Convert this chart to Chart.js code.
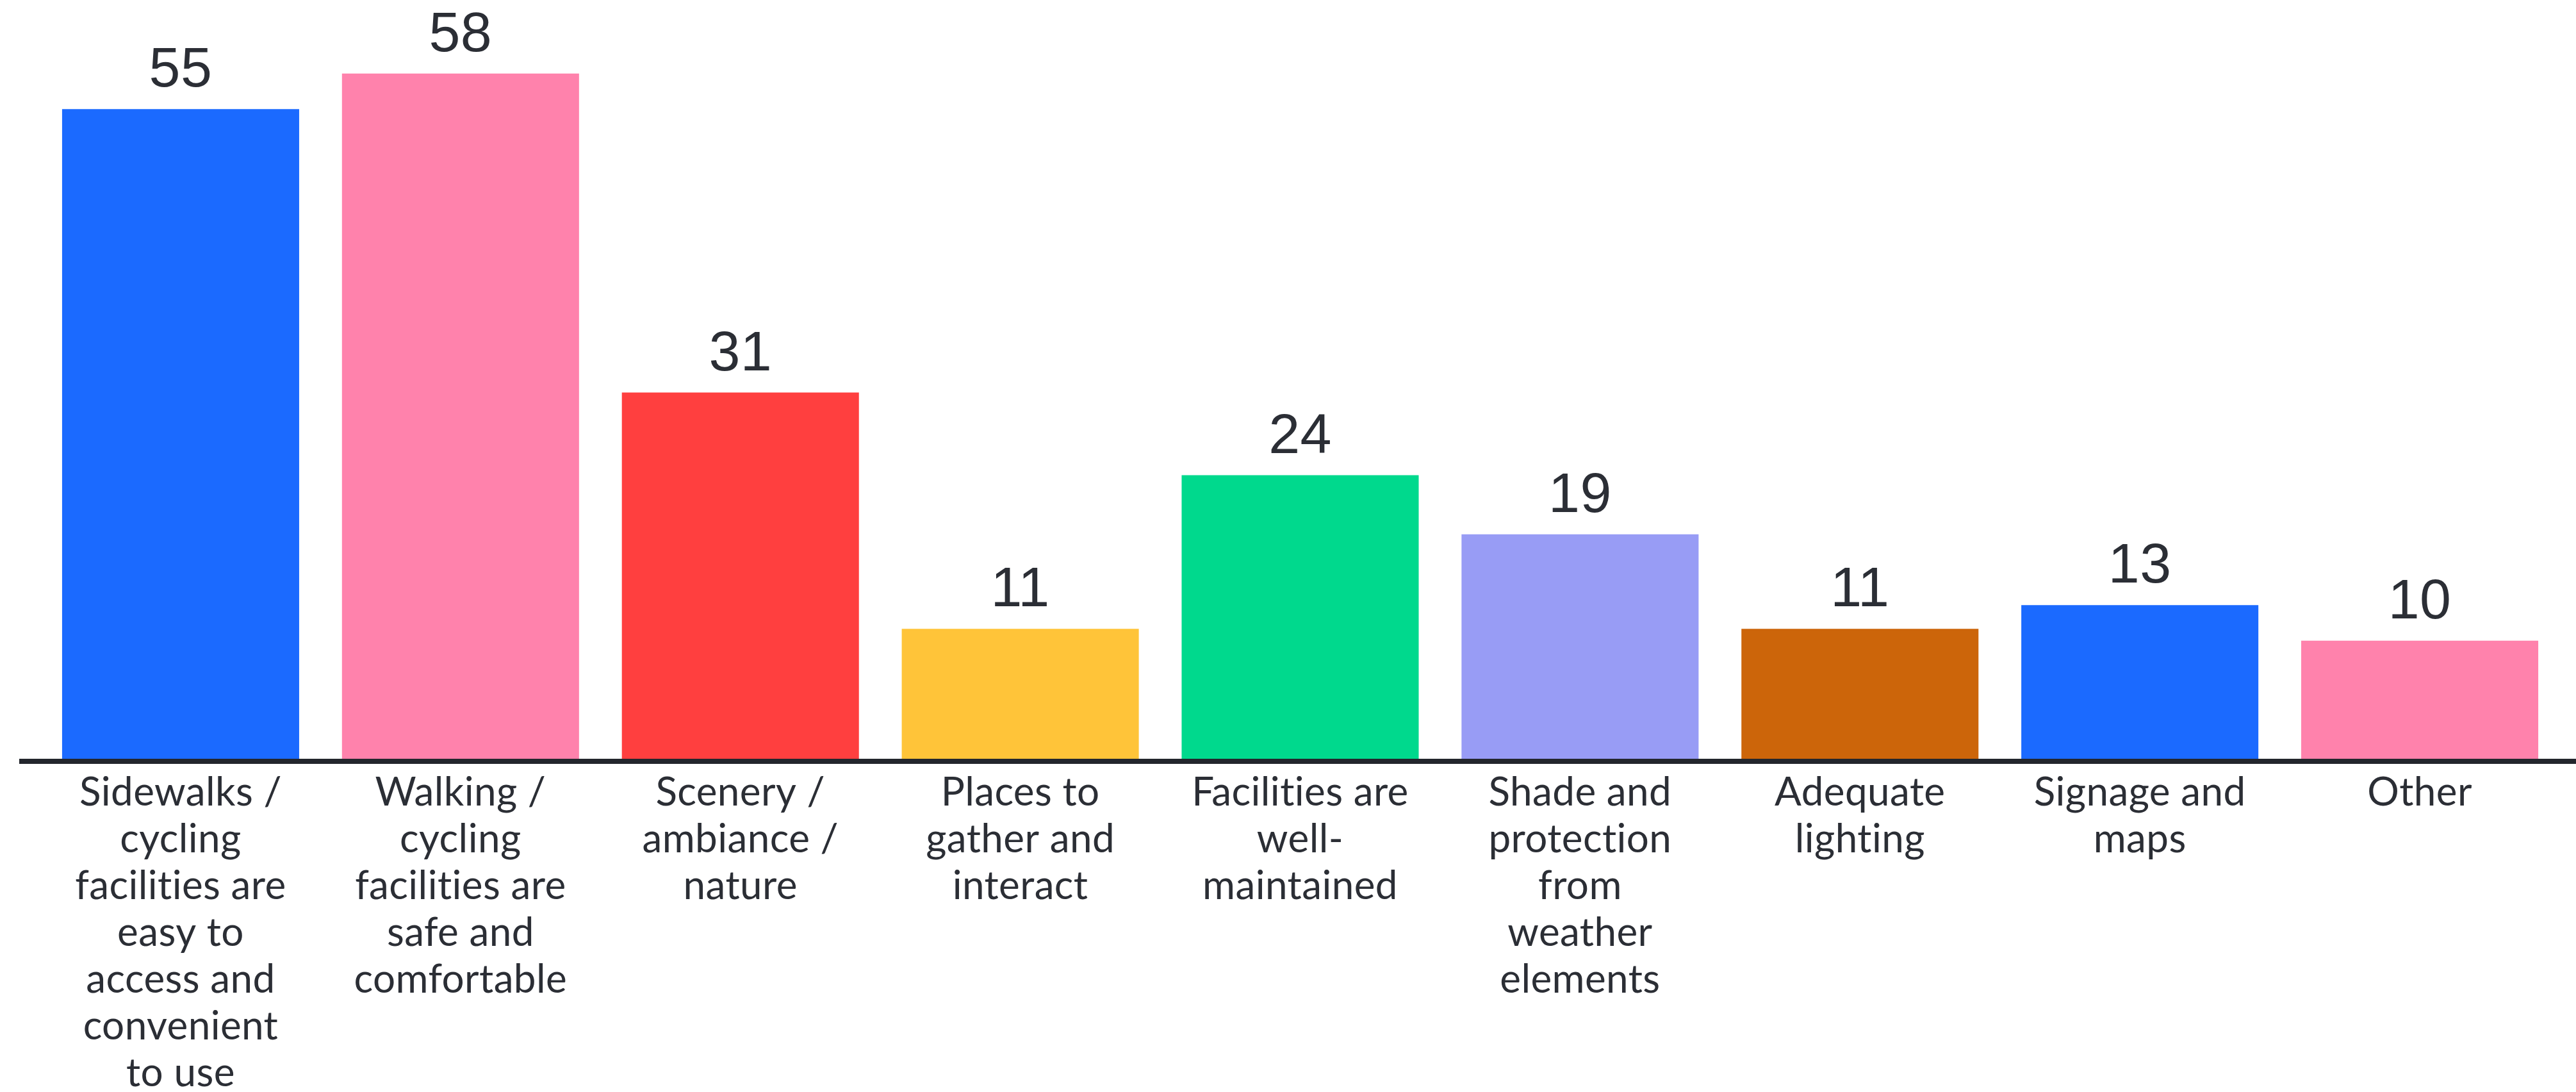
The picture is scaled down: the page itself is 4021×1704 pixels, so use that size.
<!DOCTYPE html>
<html>
<head>
<meta charset="utf-8">
<style>
  html, body { margin: 0; padding: 0; background: #ffffff; }
  #wrap { width: 4021px; height: 1704px; }
</style>
<script src="https://cdn.jsdelivr.net/npm/chart.js@4.4.0/dist/chart.umd.min.js"></script>
</head>
<body>
<div id="wrap"><canvas id="c" width="4021" height="1704"></canvas></div>
<script>
const categories = [
  ["Sidewalks /", "cycling", "facilities are", "easy to", "access and", "convenient", "to use"],
  ["Walking /", "cycling", "facilities are", "safe and", "comfortable"],
  ["Scenery /", "ambiance /", "nature"],
  ["Places to", "gather and", "interact"],
  ["Facilities are", "well-", "maintained"],
  ["Shade and", "protection", "from", "weather", "elements"],
  ["Adequate", "lighting"],
  ["Signage and", "maps"],
  ["Other"]
];
const values = [55, 58, 31, 11, 24, 19, 11, 13, 10];
const barColors = ["#1b6aff", "#ff82ac", "#ff3f3f", "#ffc439", "#00d98d", "#989cf5", "#cc650a", "#1b6aff", "#ff82ac"];
const yMax = 60;

const TEXT = "#2b2e35";

const noLigatures = {
  id: "noLigatures",
  beforeDraw(chart) {
    try { chart.ctx.letterSpacing = "0.4px"; } catch (e) {}
  }
};

const valueLabels = {
  id: "valueLabels",
  afterDatasetsDraw(chart) {
    const ctx = chart.ctx;
    const meta = chart.getDatasetMeta(0);
    ctx.save();
    ctx.fillStyle = TEXT;
    ctx.font = "88px 'Liberation Sans', Arial, sans-serif";
    ctx.textAlign = "center";
    ctx.textBaseline = "alphabetic";
    meta.data.forEach((bar, i) => {
      ctx.fillText(String(values[i]), bar.x, bar.y - 35);
    });
    ctx.restore();
  }
};

const baseLine = {
  id: "baseLine",
  afterDatasetsDraw(chart) {
    const ctx = chart.ctx;
    const y = chart.scales.y.getPixelForValue(0) + 4;
    ctx.save();
    ctx.strokeStyle = "#23262d";
    ctx.lineWidth = 8;
    ctx.beginPath();
    ctx.moveTo(30, y);
    ctx.lineTo(chart.width, y);
    ctx.stroke();
    ctx.restore();
  }
};

new Chart(document.getElementById("c"), {
  type: "bar",
  data: {
    labels: categories,
    datasets: [{
      data: values,
      backgroundColor: barColors,
      borderWidth: 0,
      barPercentage: 0.847,
      categoryPercentage: 1.0
    }]
  },
  options: {
    responsive: false,
    devicePixelRatio: 1,
    animation: false,
    layout: { padding: { top: 78, left: 63.5, right: 25.5, bottom: 0 } },
    plugins: {
      legend: { display: false },
      tooltip: { enabled: false },
      title: { display: false }
    },
    scales: {
      x: {
        grid: { display: false, drawTicks: false },
        border: { display: false },
        ticks: {
          autoSkip: false,
          maxRotation: 0,
          minRotation: 0,
          padding: 16,
          color: TEXT,
          font: { family: "Lato, 'Open Sans', sans-serif", size: 62, lineHeight: 73 / 62 }
        },
        afterFit(scale) { scale.height = 520; }
      },
      y: {
        display: false,
        min: 0,
        max: yMax
      }
    }
  },
  plugins: [noLigatures, valueLabels, baseLine]
});
</script>
</body>
</html>
